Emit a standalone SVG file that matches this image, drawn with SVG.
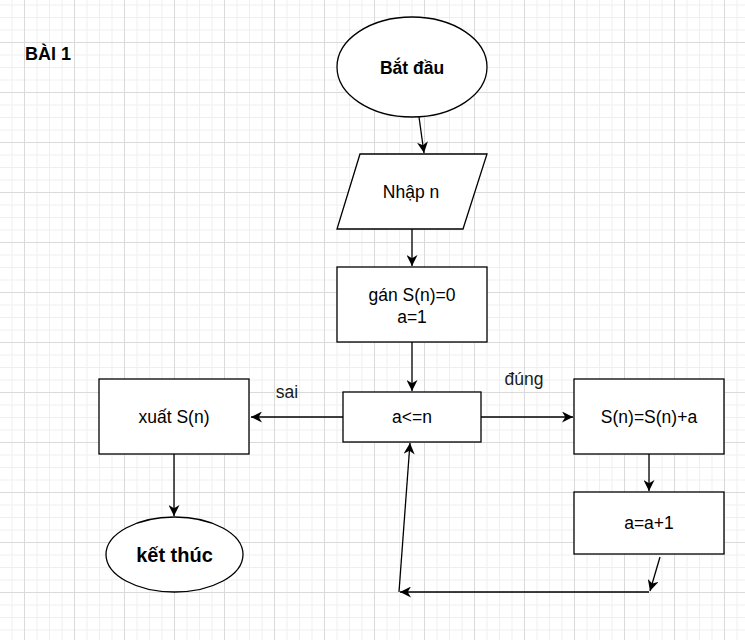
<svg xmlns="http://www.w3.org/2000/svg" width="745" height="640" viewBox="0 0 745 640">
<style>
.shape{fill:#ffffff;stroke:#000000;stroke-width:1.3}
.t{font-family:"Liberation Sans",Arial,sans-serif;font-size:17.5px;fill:#000000;text-anchor:middle;dominant-baseline:central}
.b{font-weight:bold}
.conn{fill:none;stroke:#000000;stroke-width:1.3;marker-end:url(#arr)}
.lbl{font-family:"Liberation Sans",Arial,sans-serif;font-size:17.5px;fill:#1a1a1a;text-anchor:middle;dominant-baseline:central}
</style>
<defs>
<pattern id="grid" x="24" y="42" width="50" height="50" patternUnits="userSpaceOnUse">
<path d="M13 0V50M25.5 0V50M38 0V50M0 13H50M0 25.5H50M0 38H50" stroke="#efefef" stroke-width="1" fill="none"/>
<path d="M0.5 0V50M0 0.5H50" stroke="#dadada" stroke-width="1" fill="none"/>
</pattern>
<marker id="arr" viewBox="0 0 10 10" refX="10" refY="5" markerWidth="12" markerHeight="11" markerUnits="userSpaceOnUse" orient="auto">
<path d="M0,0 L10,5 L0,10 L3,5 Z" fill="#000000"/>
</marker>
</defs>
<rect width="745" height="640" fill="#ffffff"/>
<rect width="745" height="640" fill="url(#grid)"/>

<g id="title">
<text x="25" y="54" class="t b" style="text-anchor:start;font-size:18px">BÀI 1</text>
</g>

<g id="connectors">
<path class="conn" d="M419 117 L424 153"/>
<path class="conn" d="M412 229 L412 266"/>
<path class="conn" d="M412 342 L412 391"/>
<path class="conn" d="M343 417 L251 417"/>
<path class="conn" d="M481 417 L573 417"/>
<path class="conn" d="M174 454 L174 516"/>
<path class="conn" d="M649 454 L649 491"/>
<path class="conn" d="M660 557 L650 591"/>
<path class="conn" d="M649 592 L400 592"/>
<path class="conn" d="M399 592 L410 443"/>
<text x="287" y="392" class="lbl">sai</text>
<text x="524" y="379" class="lbl">đúng</text>
</g>

<g id="start">
<ellipse cx="412" cy="67" rx="75" ry="50" class="shape"/>
<text x="412" y="68" class="t b">Bắt đầu</text>
</g>

<g id="input">
<polygon points="360,154 487,154 463,229 337,229" class="shape"/>
<text x="411" y="192" class="t">Nhập n</text>
</g>

<g id="init">
<rect x="337" y="267" width="150" height="75" class="shape"/>
<text x="412" y="295" class="t">gán S(n)=0</text>
<text x="412" y="317" class="t">a=1</text>
</g>

<g id="cond">
<rect x="343" y="392" width="138" height="50" class="shape"/>
<text x="412" y="417" class="t">a&lt;=n</text>
</g>

<g id="output">
<rect x="99" y="379" width="150" height="75" class="shape"/>
<text x="174" y="417" class="t">xuất S(n)</text>
</g>

<g id="end">
<ellipse cx="174.5" cy="554.5" rx="68.5" ry="37.5" class="shape"/>
<text x="174.5" y="555" class="t b" style="font-size:20px">kết thúc</text>
</g>

<g id="sum">
<rect x="574" y="379" width="150" height="75" class="shape"/>
<text x="649" y="417" class="t">S(n)=S(n)+a</text>
</g>

<g id="inc">
<rect x="574" y="492" width="150" height="62" class="shape"/>
<text x="649" y="523" class="t">a=a+1</text>
</g>
</svg>
